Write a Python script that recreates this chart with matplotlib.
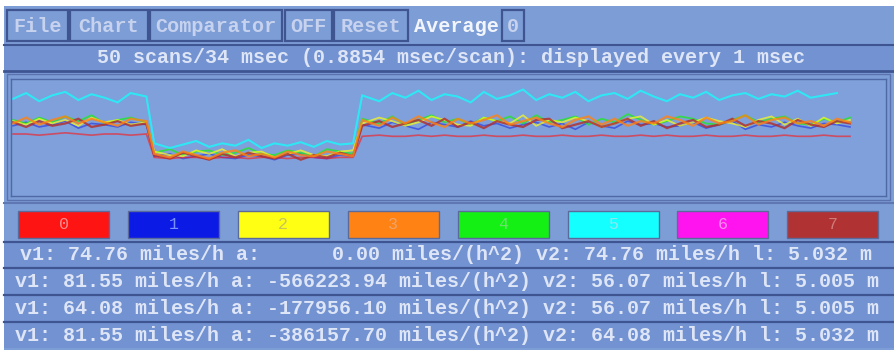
import numpy as np
import matplotlib
matplotlib.use("Agg")
import matplotlib.pyplot as plt
from matplotlib.patches import Rectangle

# ---------------- data ----------------
channels = ["0", "1", "2", "3", "4", "5", "6", "7"]
channel_colors = ["#ff1414", "#0c1ae6", "#ffff14", "#ff8214", "#14f014", "#14ffff", "#ff14f0", "#b03232"]
label_colors = ["#ff8c8c", "#7890ff", "#c8c45a", "#f0a46a", "#6ee06e", "#8ce8f0", "#ff8cf0", "#d07a7a"]

toolbar_buttons = ["File", "Chart", "Comparator", "OFF", "Reset"]
toolbar_label = "Average"
toolbar_value = "0"
status_text = "50 scans/34 msec (0.8854 msec/scan): displayed every 1 msec"
readout_rows = [
    "v1: 74.76 miles/h a:      0.00 miles/(h^2) v2: 74.76 miles/h l: 5.032 m",
    "v1: 81.55 miles/h a: -566223.94 miles/(h^2) v2: 56.07 miles/h l: 5.005 m",
    "v1: 64.08 miles/h a: -177956.10 miles/(h^2) v2: 56.07 miles/h l: 5.005 m",
    "v1: 81.55 miles/h a: -386157.70 miles/(h^2) v2: 64.08 miles/h l: 5.032 m",
]

# sample positions (scan index); the step edges fall between scans
samples = [0, 1, 2, 3, 4, 5, 6, 7, 8, 9, 10.2, 10.8,
           12, 13, 14, 15, 16, 17, 18, 19, 20, 21, 22, 23, 24, 25, 26, 26.7,
           28, 29, 30, 31, 32, 33, 34, 35, 36, 37, 38, 39, 40, 41, 42, 43, 44, 45, 46,
           47, 48, 49, 50, 51, 52, 53, 54, 55, 56, 57, 58, 59, 60, 61, 62, 63, 64]

ch5_cyan = [83, 88, 81, 86, 89, 82, 87, 84, 80, 88, 85,
            45, 41, 44, 47, 42, 45, 43, 48, 41, 45, 43, 46, 42, 47, 44, 45,
            86, 81, 88, 84, 90, 82, 87, 85, 80, 89, 83, 86, 91, 82, 87, 84, 89, 81, 86, 88,
            83, 90, 85, 81, 87, 84, 89, 82, 86, 88, 83, 87, 85, 90, 84, 86, 88, np.nan]
ch3_orange = [62, 67, 61, 65, 68, 62, 66, 63, 60, 66, 64,
              36, 33, 38, 35, 32, 37, 39, 34, 36, 33, 38, 35, 34, 38, 36, 34,
              65, 60, 67, 62, 68, 63, 59, 66, 62, 65, 69, 61, 64, 67, 62, 59, 65, 68, 61, 66,
              60, 64, 62, 68, 65, 60, 67, 62, 64, 69, 61, 65, 67, 62, 64, 60, 66, 63]
ch7_brown = [63, 59, 64, 60, 62, 66, 59, 61, 64, 60, 62,
             35, 32, 37, 34, 31, 36, 33, 37, 34, 32, 36, 31, 35, 33, 37, 34,
             60, 64, 59, 62, 65, 60, 66, 59, 63, 58, 64, 61, 59, 65, 66, 58, 61, 64, 59, 62,
             66, 60, 64, 58, 62, 65, 59, 61, 66, 60, 64, 62, 58, 65, 61, 59, 64, 62]
ch2_yellow = [64, 61, 66, 62, 65, 60, 67, 63, 65, 61, 63,
              38, 35, 34, 39, 36, 40, 34, 37, 38, 33, 36, 39, 35, 34, 38, 39,
              62, 67, 64, 60, 63, 68, 65, 61, 60, 67, 64, 62, 69, 60, 65, 63, 67, 64, 59, 62,
              66, 68, 61, 65, 60, 63, 67, 64, 62, 59, 65, 68, 61, 66, 60, 67, 62, 65]
ch4_green = [65, 62, 67, 63, 68, 64, 69, 62, 65, 67, 63,
             37, 40, 35, 38, 39, 35, 37, 41, 36, 35, 39, 37, 34, 40, 38, 36,
             66, 62, 68, 61, 65, 69, 63, 66, 61, 67, 64, 68, 62, 69, 63, 65, 68, 61, 66, 63,
             70, 65, 61, 64, 68, 66, 62, 61, 65, 69, 63, 66, 68, 62, 61, 66, 63, 67]
ch1_blue = [60, 63, 59, 61, 64, 58, 62, 61, 59, 63, 61,
            34, 36, 32, 34, 36, 33, 32, 35, 34, 31, 35, 36, 33, 32, 35, 34,
            61, 58, 63, 60, 57, 63, 61, 59, 64, 60, 62, 58, 61, 63, 59, 62, 57, 63, 60, 58,
            64, 61, 62, 59, 60, 63, 58, 61, 64, 57, 61, 59, 63, 60, 58, 62, 61, 59]
ch0_red = [53, 53, 52, 53, 54, 53, 52, 53, 53, 52, 53,
           33, 32, 33, 33, 32, 33, 33, 32, 33, 33, 32, 33, 33, 32, 33, 33,
           51, 52, 51, 51, 52, 51, 52, 51, 51, 52, 51, 51, 52, 51, 51, 52, 51, 51, 52, 51,
           51, 52, 51, 52, 51, 51, 52, 51, 51, 52, 51, 51, 52, 51, 51, 52, 51, 51]

# ---------------- style ----------------
W, H = 894, 350
BG = "#7d9dd7"
ROWBG = "#7292d2"
DARK = "#3e5592"
TXT = "#dde5f6"
MONO = "Liberation Mono"

fig = plt.figure(figsize=(W / 100, H / 100), dpi=100)
fig.patch.set_facecolor("white")
ui = fig.add_axes([0, 0, 1, 1])
ui.set_xlim(0, W)
ui.set_ylim(H, 0)
ui.axis("off")

def rect(x0, y0, x1, y1, fc, ec="none", lw=0, z=1):
    ui.add_patch(Rectangle((x0, y0), x1 - x0, y1 - y0, facecolor=fc,
                           edgecolor=ec, linewidth=lw, zorder=z))

# main background
rect(4, 6, W, H, BG)

# toolbar
btn_x = [(7, 68), (70, 148), (150, 282), (285, 332), (334, 408)]
for (x0, x1), lab in zip(btn_x, toolbar_buttons):
    rect(x0, 10, x1, 41, BG, DARK, 1.6, z=2)
    ui.text((x0 + x1) / 2, 26, lab, ha="center", va="center", color="#c6d2ee",
            fontsize=14.5, family=MONO, fontweight="bold", zorder=3)
ui.text(456, 26, toolbar_label, ha="center", va="center", color="#f2f5fc",
        fontsize=14.5, family=MONO, fontweight="bold", zorder=3)
rect(502, 10, 524, 41, BG, DARK, 1.6, z=2)
ui.text(513, 26, toolbar_value, ha="center", va="center", color="#c6d2ee",
        fontsize=14.5, family=MONO, fontweight="bold", zorder=3)

# status row
rect(4, 45, W, 70, ROWBG, z=1)
ui.plot([4, W], [45, 45], color=DARK, lw=1.5, zorder=2)
ui.plot([4, W], [70.5, 70.5], color=DARK, lw=2.0, zorder=2)
ui.text(451, 57.5, status_text, ha="center", va="center", color=TXT,
        fontsize=14.4, family=MONO, fontweight="bold", zorder=3)

# plot panel frame
rect(7, 74, 890, 200, BG, "#5a72ae", 1.0, z=1)
ui.plot([4, W], [203, 203], color="#5f78b4", lw=1.5, zorder=2)

# data axes
px0, px1, py0, py1 = 11, 886, 79, 196
ax = fig.add_axes([px0 / W, 1 - py1 / H, (px1 - px0) / W, (py1 - py0) / H])
ax.set_facecolor("#7fa0da")
for s in ax.spines.values():
    s.set_color("#4f68a6")
    s.set_linewidth(1.0)
ax.set_xticks([])
ax.set_yticks([])
slope = (850 - 13) / 64
ax.set_xlim(-(13 - px0) / slope, 64 + (px1 - 850) / slope)
ax.set_ylim(0, 100)

series = [
    (ch1_blue, channel_colors[1], 1.2, 0.5),
    (ch0_red, channel_colors[0], 1.2, 0.6),
    (ch4_green, channel_colors[4], 1.3, 0.7),
    (ch2_yellow, channel_colors[2], 1.3, 0.7),
    (ch7_brown, channel_colors[7], 1.6, 0.85),
    (ch3_orange, channel_colors[3], 1.6, 0.8),
    (ch5_cyan, channel_colors[5], 1.5, 0.75),
]
for vals, col, lw, a in series:
    ax.plot(samples, vals, color=col, lw=lw, alpha=a, solid_joinstyle="miter")

# channel swatches
sw_x0 = 18
pitch = 109.9
sw_w = 91
for i, (lab, col, lc) in enumerate(zip(channels, channel_colors, label_colors)):
    x0 = sw_x0 + i * pitch
    rect(x0, 211, x0 + sw_w, 238, col, "#5a6a9a", 1.0, z=2)
    ui.text(x0 + sw_w / 2, 224.5, lab, ha="center", va="center", color=lc,
            fontsize=12, family=MONO, zorder=3)

# readout rows
row_bounds = [(242, 267), (268, 294), (295, 321), (322, 348)]
for (y0, y1) in row_bounds:
    rect(4, y0, W, y1, ROWBG, z=1)
for yl in [241.5, 267.5, 294.5, 321.5]:
    ui.plot([4, W], [yl, yl], color=DARK, lw=1.6, zorder=2)
for i, ((y0, y1), txt) in enumerate(zip(row_bounds, readout_rows)):
    yc = (y0 + y1) / 2 + 0.5
    if i == 0:
        ui.text(446, yc, txt, ha="center", va="center", color=TXT,
                fontsize=14.45, family=MONO, fontweight="bold", zorder=3)
    else:
        ui.text(15, yc, txt, ha="left", va="center", color=TXT,
                fontsize=14.45, family=MONO, fontweight="bold", zorder=3)

fig.savefig("out.png", dpi=100, facecolor=fig.get_facecolor())
